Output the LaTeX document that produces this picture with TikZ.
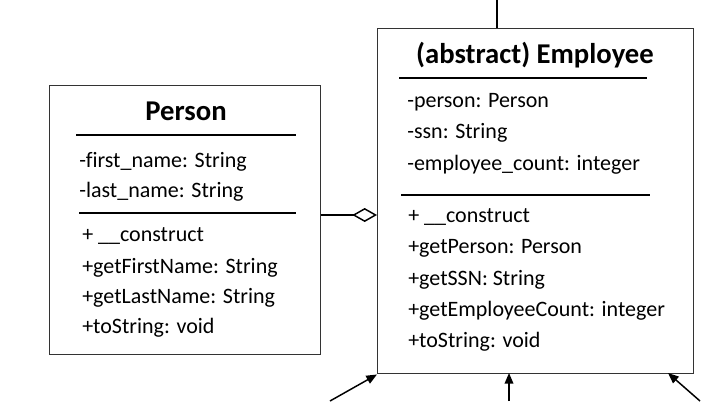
\documentclass[tikz,border=0pt]{standalone}
\usepackage{fontspec}
\setmainfont[Ligatures={NoCommon}]{Carlito}
\usetikzlibrary{arrows.meta}
\definecolor{BoxGray}{rgb}{0.2, 0.2, 0.2}

\begin{document}
\begin{tikzpicture}[x=0.75pt,y=0.75pt,yscale=-1,xscale=1,
		classbox/.style={draw=BoxGray, line width=1.1pt, inner sep=0pt, anchor=north west},
		sepline/.style={draw=black, line width=0.8pt},
		member/.style={anchor=base west, inner sep=0pt, font=\fontsize{16.5}{20}\selectfont},
		title/.style={anchor=base, inner sep=0pt, font=\fontsize{21.5}{26}\selectfont\bfseries},
		inherit/.style={draw=black, line width=1.1pt, -{Triangle[length=8pt,width=6.5pt]}},
		aggregate/.style={draw=black, line width=1.1pt, -{Diamond[open,length=18.5pt,width=10.5pt]}}]
	\useasboundingbox (0,0) rectangle (728,401);

	%Shape: Rectangle [Person]
	\node [classbox, minimum width=271*0.75pt, minimum height=269*0.75pt] (person) at (49,85) {};
	%Shape: Rectangle [Employee]
	\node [classbox, minimum width=316*0.75pt, minimum height=345*0.75pt] (employee) at (377,28) {};

	% Text Node
	\node [title] (personTitle) at (186,120) {Person};
	%Straight Lines
	\draw [sepline] (76,135) -- (296,135) ;
	% Text Node
	\node [member] (personA1) at (79,167) {-first\_name: String};
	% Text Node
	\node [member] (personA2) at (79,197) {-last\_name: String};
	%Straight Lines
	\draw [sepline] (79,213) -- (296,213) ;
	% Text Node
	\node [member] (personM1) at (82,241) {+ \_\_construct};
	% Text Node
	\node [member] (personM2) at (82,273) {+getFirstName: String};
	% Text Node
	\node [member] (personM3) at (82,303) {+getLastName: String};
	% Text Node
	\node [member] (personM4) at (82,333) {+toString: void};

	% Text Node
	\node [title] (employeeTitle) at (535,63) {(abstract) Employee};
	%Straight Lines
	\draw [sepline] (399,78) -- (647,78) ;
	% Text Node
	\node [member] (employeeA1) at (407,107) {-person: Person};
	% Text Node
	\node [member] (employeeA2) at (407,138) {-ssn: String};
	% Text Node
	\node [member] (employeeA3) at (407,170) {-employee\_count: integer};
	%Straight Lines
	\draw [sepline] (401,195) -- (650,195) ;
	% Text Node
	\node [member] (employeeM1) at (408,222) {+ \_\_construct};
	% Text Node
	\node [member] (employeeM2) at (408,253) {+getPerson: Person};
	% Text Node
	\node [member] (employeeM3) at (408,285) {+getSSN: String};
	% Text Node
	\node [member] (employeeM4) at (408,316) {+getEmployeeCount: integer};
	% Text Node
	\node [member] (employeeM5) at (408,347) {+toString: void};

	%Connectors
	\coordinate (aggEnd) at (377,215);
	\coordinate (topEnd) at (497,0);
	\coordinate (tipMid) at (509,373);
	\coordinate (tipRight) at (668,373);
	\coordinate (fromLeft) at (330,401);
	\coordinate (fromMid) at (509,401);
	\coordinate (fromRight) at (700,401);

	\draw [aggregate] (person.east |- aggEnd) -- (aggEnd) ;
	\draw [draw=black, line width=1.1pt] (topEnd) -- (topEnd |- employee.north) ;
	\draw [inherit] (fromLeft) -- (employee.south west) ;
	\draw [inherit] (fromMid) -- (tipMid) ;
	\draw [inherit] (fromRight) -- (tipRight) ;

\end{tikzpicture}
\end{document}
